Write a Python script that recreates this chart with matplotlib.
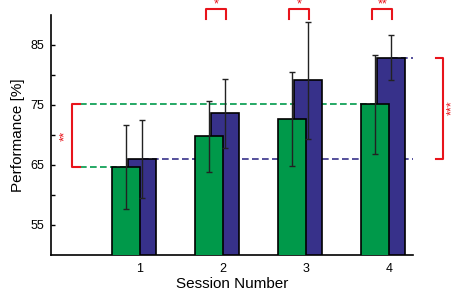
import numpy as np
import matplotlib.pyplot as plt

plt.rcParams['font.family'] = ['Liberation Sans', 'DejaVu Sans']

# Data
sessions = [1, 2, 3, 4]
green_mean = [64.6, 69.8, 72.7, 75.1]
green_err = [7.0, 5.9, 7.8, 8.2]
blue_mean = [66.05, 73.6, 79.1, 82.9]
blue_err = [6.5, 5.7, 9.8, 3.8]
top_stars = ['*', '*', '**']   # sessions 2, 3, 4
top_sessions = [2, 3, 4]

GREEN = '#00994a'
BLUE = '#37318a'
RED = '#e8141b'

x = np.array(sessions, dtype=float)
xg = x - 0.169
xb = x + 0.027
w = 0.341

fig = plt.figure(figsize=(4.59, 2.94), dpi=100)
ax = fig.add_axes([0.111, 0.133, 0.789, 0.816])

# reference dashed lines (behind bars)
dash = (0, (4, 2))
ax.plot([0.282, xg[3]], [green_mean[3], green_mean[3]], ls=dash, color=GREEN, lw=1.2, zorder=1)
ax.plot([0.282, xg[0]], [green_mean[0], green_mean[0]], ls=dash, color=GREEN, lw=1.2, zorder=1)
ax.plot([xb[0], 4.568], [blue_mean[0], blue_mean[0]], ls=dash, color=BLUE, lw=1.2, zorder=1)
ax.plot([xb[3], 4.568], [blue_mean[3], blue_mean[3]], ls=dash, color=BLUE, lw=1.2, zorder=1)

ax.bar(xb, blue_mean, w, color=BLUE, edgecolor='black', lw=1.2, zorder=2)
ax.bar(xg, green_mean, w, color=GREEN, edgecolor='black', lw=1.2, zorder=3)
ax.errorbar(xg, green_mean, yerr=green_err, fmt='none', ecolor='#222222', elinewidth=1.0,
            capsize=2.2, capthick=1.0, zorder=4)
ax.errorbar(xb, blue_mean, yerr=blue_err, fmt='none', ecolor='#222222', elinewidth=1.0,
            capsize=2.2, capthick=1.0, zorder=4)

# left bracket: green session 1 vs session 4
ax.plot([0.282, 0.186, 0.186, 0.282], [green_mean[3], green_mean[3], green_mean[0], green_mean[0]],
        color=RED, lw=1.5, zorder=5, clip_on=False)
ax.text(0.105, (green_mean[0] + green_mean[3]) / 2, '**', color=RED, fontsize=9.5,
        rotation=90, ha='center', va='center')

# right bracket: blue session 1 vs session 4
ax.plot([4.568, 4.656, 4.656, 4.568], [blue_mean[3], blue_mean[3], blue_mean[0], blue_mean[0]],
        color=RED, lw=1.5, zorder=5, clip_on=False)
ax.text(4.765, (blue_mean[0] + blue_mean[3]) / 2, '***', color=RED, fontsize=9,
        rotation=90, ha='center', va='center', clip_on=False)

# top brackets: green vs blue within a session
for s, st in zip(top_sessions, top_stars):
    i = sessions.index(s)
    x0, x1 = xg[i] - 0.03, xb[i] + 0.01
    ax.plot([x0, x0, x1, x1], [89.33, 90.95, 90.95, 89.33], color=RED, lw=1.5, clip_on=False)
    ax.text((x0 + x1) / 2, 90.75, st, color=RED, fontsize=9, ha='center', va='bottom')

ax.set_xlim(-0.071, 4.29)
ax.set_ylim(50, 90)
ax.set_yticks(np.arange(55, 90, 5))
ax.set_yticklabels(['55', '', '65', '', '75', '', '85'])
ax.set_xticks(sessions)
ax.tick_params(axis='y', direction='in', length=3, width=1, labelsize=9, pad=5)
ax.tick_params(axis='x', length=0, labelsize=9, pad=6)
ax.spines['top'].set_visible(False)
ax.spines['right'].set_visible(False)
ax.spines['left'].set_linewidth(1.2)
ax.spines['bottom'].set_linewidth(1.2)
ax.set_xlabel('Session Number', fontsize=11, labelpad=1)
ax.set_ylabel('Performance [%]', fontsize=11, labelpad=4)

fig.savefig('out.png', dpi=100)
